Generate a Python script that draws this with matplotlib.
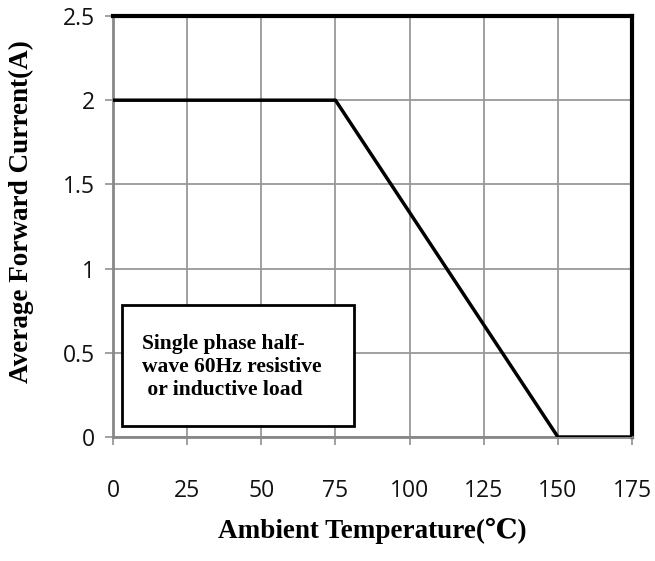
import matplotlib
matplotlib.use('Agg')
import matplotlib.pyplot as plt
from matplotlib.patches import Rectangle

# derating curve
temp = [0, 75, 150, 175]
current = [2, 2, 0, 0]

xticks = [0, 25, 50, 75, 100, 125, 150, 175]
yticks = [0, 0.5, 1, 1.5, 2, 2.5]
ytick_labels = ['0', '0.5', '1', '1.5', '2', '2.5']

note = 'Single phase half-\nwave 60Hz resistive\n or inductive load'

fig = plt.figure(figsize=(6.55, 5.61), dpi=100)
ax = fig.add_axes([0.1725, 0.221, 0.7925, 0.7505])

ax.set_xlim(0, 175)
ax.set_ylim(0, 2.5)
ax.set_xticks(xticks)
ax.set_yticks(yticks)
ax.set_yticklabels(ytick_labels)
ax.grid(True, color='#999999', linewidth=1.3)
ax.set_axisbelow(True)

ax.plot(temp, current, color='black', linewidth=2.5, solid_capstyle='butt', zorder=3)

for s in ['left', 'bottom']:
    ax.spines[s].set_color('#888888')
    ax.spines[s].set_linewidth(2)
for s in ['top', 'right']:
    ax.spines[s].set_color('black')
    ax.spines[s].set_linewidth(3)

ax.tick_params(axis='both', direction='out', color='#999999', width=1.3, length=6,
               labelsize=16.5, labelcolor='#111111')
ax.tick_params(axis='x', pad=24)
ax.tick_params(axis='y', pad=7)
for lbl in ax.get_xticklabels() + ax.get_yticklabels():
    lbl.set_family('Open Sans')

ax.add_patch(Rectangle((3.0, 0.065), 78.3, 0.72, facecolor='white', edgecolor='black',
                       linewidth=2, zorder=4))
ax.text(9.8, 0.415, note, fontsize=15.5, fontweight='bold', family='Liberation Serif',
        va='center', ha='left', linespacing=1.22, zorder=5)

ax.set_xlabel('Ambient Temperature(℃)', fontsize=19.5, fontweight='bold',
              family=['Liberation Serif', 'DejaVu Serif'], labelpad=11)
ax.set_ylabel('Average Forward Current(A)', fontsize=19.5, fontweight='bold',
              family='Liberation Serif')
ax.yaxis.set_label_coords(-0.153, 0.535)

fig.savefig('out.png', dpi=100)
